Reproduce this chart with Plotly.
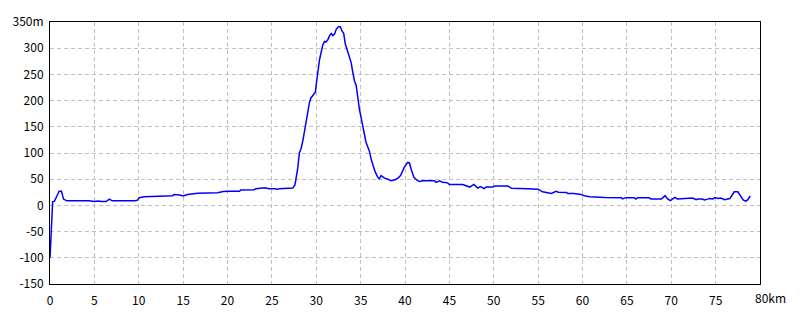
import plotly.graph_objects as go

km = [0, 0.1, 0.2, 0.3, 0.5, 0.8, 1.03, 1.3, 1.52, 1.9, 2.5, 2.7, 3.3, 3.6, 4.0, 4.4, 5.0, 5.4, 5.8, 6.3,
      6.7, 7.0, 7.4, 9.0, 9.3, 9.6, 9.86, 10.05, 10.6, 11.2, 12.0, 13.8, 14.0, 14.6, 15.0, 15.5, 16.65,
      18.9, 19.5, 19.9, 20.2, 21.35, 21.5, 23.0, 23.2, 24.2, 24.7, 25.4, 25.6, 25.8, 26.4, 26.6, 27.35,
      27.6, 27.9, 28.1, 28.3, 28.5, 28.7, 28.9, 29.05, 29.24, 29.4, 29.7, 29.9, 30.03, 30.2, 30.37,
      30.56, 30.74, 30.93, 31.1, 31.3, 31.5, 31.7, 31.87, 32.06, 32.25, 32.5, 32.7, 32.9, 33.1, 33.26,
      33.5, 33.75, 33.94, 34.1, 34.3, 34.5, 34.7, 34.87, 35.06, 35.25, 35.4, 35.6, 35.8, 36.0, 36.2,
      36.4, 36.64, 36.9, 37.1, 37.3, 37.7, 38.06, 38.4, 38.9, 39.2, 39.5, 39.9, 40.3, 40.5, 40.7, 41.0,
      41.3, 41.6, 42.0, 42.6, 43.3, 43.5, 43.9, 44.26, 44.8, 45.0, 46.5, 47.3, 47.75, 48.2, 48.5, 48.9,
      49.15, 49.9, 50.1, 51.6, 52.0, 53.8, 55.0, 55.5, 56.1, 56.5, 57.0, 57.3, 58.2, 58.35, 59.0, 59.7,
      60.2, 60.8, 62.5, 64.4, 64.5, 64.9, 65.8, 66.0, 66.2, 67.5, 67.7, 68.9, 69.3, 69.6, 69.9, 70.2,
      70.4, 70.7, 72.4, 72.8, 73.0, 73.5, 73.75, 74.1, 74.3, 74.7, 74.9, 75.3, 75.6, 76.0, 76.3, 76.6,
      76.8, 77.1, 77.5, 77.8, 78.1, 78.4, 78.6, 78.9]

elevation = [-100, -70, -28, 7, 8, 18, 27, 27, 12, 8.7, 8.7, 10, 10, 9, 10, 9, 7.4, 8.5, 7.4, 7.4,
             12, 8.7, 8.7, 8.7, 7.4, 8.7, 10, 14.8, 16.6, 17, 18.5, 18.5, 20.9, 20, 17.9, 20.9, 23.4,
             24, 26.4, 26, 27, 27, 29.5, 30, 32, 33.8, 32, 32, 30.5, 32, 32, 33, 33,
             39, 69, 100, 109, 124, 146, 161, 176, 197, 205, 212, 216, 235, 260, 278,
             293, 306, 313, 312, 316, 324, 328, 324, 327, 336, 341, 341, 333, 328, 309,
             296, 284, 272, 256, 238, 229, 201, 183, 167, 149, 137, 121, 112, 103, 87,
             75, 64, 55, 50, 57, 52, 50, 47, 49, 52, 57, 72, 82, 81, 69, 53.5,
             49, 45.6, 47, 46.5, 47, 44, 47, 44, 43, 40, 40, 35, 40, 33, 36, 32,
             35, 35, 37, 37, 32.6, 32, 31, 26, 24.6, 22.7, 27, 25, 24.6, 22.7, 22.7, 21.5,
             18.5, 16.6, 15.3, 14.8, 12.3, 14.8, 14.8, 12.3, 14.8, 14.8, 12.3, 12.3, 18.5, 12.3, 9, 12.3,
             15.3, 12.3, 14.2, 11, 12.3, 12.3, 10.5, 12, 13, 12.3, 15, 13, 14, 11, 12, 13,
             18, 26, 26, 18, 10.5, 8, 10.5, 18]

x_ticks = [0, 5, 10, 15, 20, 25, 30, 35, 40, 45, 50, 55, 60, 65, 70, 75, 80]
x_labels = [str(v) for v in x_ticks[:-1]] + [""]
y_ticks = [-150, -100, -50, 0, 50, 100, 150, 200, 250, 300, 350]
y_labels = [str(v) for v in y_ticks[:-1]] + ["350m"]

font = dict(family="Noto Sans CJK JP", size=12, color="black")

fig = go.Figure(go.Scatter(x=km, y=elevation, mode="lines",
                           line=dict(color="#0000ff", width=1.5), hoverinfo="skip"))

axis_common = dict(showline=True, linecolor="black", linewidth=1, mirror=True,
                   showgrid=True, gridcolor="#c0c0c0", griddash="4px,3px", gridwidth=1,
                   zeroline=False, tickfont=font, ticks="outside", tickcolor="white")

fig.update_xaxes(range=[0, 80], tickvals=x_ticks, ticktext=x_labels, ticklen=6, **axis_common)
fig.update_yaxes(range=[-150, 350], tickvals=y_ticks, ticktext=y_labels, ticklen=3, **axis_common)

fig.add_annotation(x=80, y=0, xref="x", yref="paper", text="80km", showarrow=False,
                   xanchor="left", yanchor="top", xshift=-7, yshift=-3, font=font)

fig.update_layout(width=800, height=320, margin=dict(l=50, r=40, t=19, b=30),
                  paper_bgcolor="white", plot_bgcolor="white", showlegend=False)

fig.write_html("out.html")
